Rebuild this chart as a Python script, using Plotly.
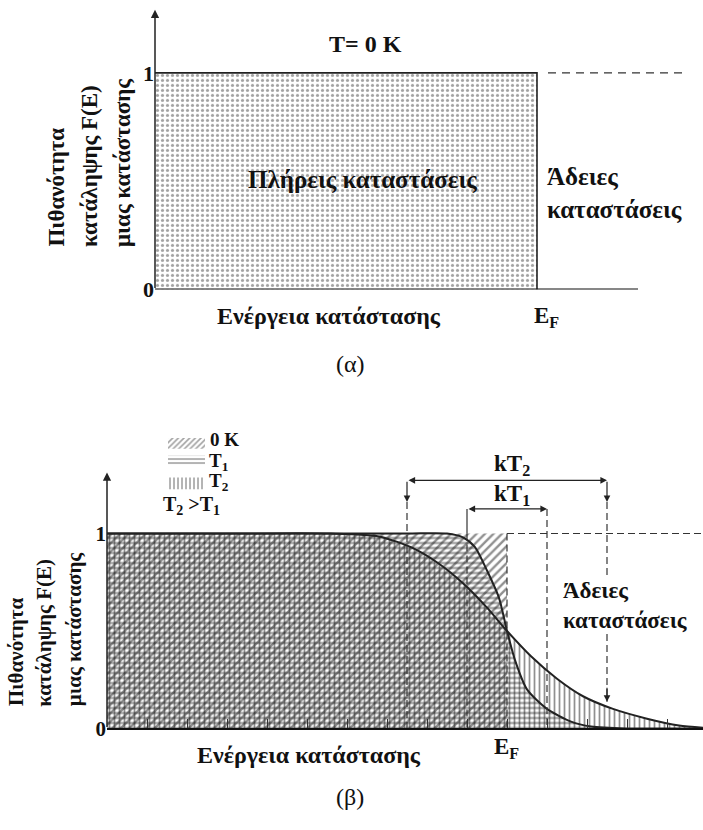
import plotly.graph_objects as go

W, H = 703, 830
FONT = "Liberation Serif"

# ---------------- data ----------------
# Panel (a): occupation probability at T = 0 K (energy in units of E_F)
E_a = [0.0, 1.0, 1.0]
F_a = [1.0, 1.0, 0.0]

# Panel (b): occupation probability, energy in units of E_F
E_0K = [0.0, 1.0, 1.0]
F_0K = [1.0, 1.0, 0.0]
E_T1 = [0.0, 0.40, 0.75, 0.85, 0.89, 0.92, 0.95, 0.98, 1.00, 1.02, 1.05, 1.10, 1.16, 1.21, 1.30, 1.49]
F_T1 = [1.0, 1.00, 1.00, 1.0, 0.98, 0.93, 0.81, 0.67, 0.50, 0.35, 0.20, 0.10, 0.035, 0.01, 0.0, 0.0]
E_T2 = [0.0, 0.30, 0.56, 0.68, 0.765, 0.83, 0.89, 0.95, 1.00, 1.06, 1.125, 1.19, 1.265, 1.35, 1.43, 1.49]
F_T2 = [1.0, 1.00, 1.0, 0.985, 0.925, 0.845, 0.745, 0.62, 0.50, 0.37, 0.255, 0.165, 0.10, 0.05, 0.015, 0.004]
EF = 1.0
KT1 = 0.10
KT2 = 0.25
Y_TICKS = [0, 1]
Y_TICK_TEXT = ["<b>0</b>", "<b>1</b>"]

# ---------------- geometry (pixels) ----------------
A_X0, A_XEF, A_Y0, A_Y1, A_TOP = 155, 537, 294, 74, 8
B_X0, B_XEF, B_Y0, B_Y1, B_TOP = 107, 507, 740, 542, 478
a_sx = A_XEF - A_X0
a_sy = A_Y0 - A_Y1
b_sx = B_XEF - B_X0
b_sy = B_Y0 - B_Y1


def bF(ypx):
    return (B_Y0 - ypx) / b_sy


def px(x):
    return x / W


def py(y):
    return 1 - y / H


fig = go.Figure()

# ----- panel (a) -----
fig.add_trace(go.Scatter(
    x=E_a, y=F_a, xaxis="x", yaxis="y", mode="lines", fill="tozeroy",
    line=dict(color="#222", width=1.6), fillcolor="rgba(0,0,0,0)",
    fillpattern=dict(shape=".", size=5, solidity=0.33, fgcolor="#444", bgcolor="rgba(0,0,0,0)"),
    showlegend=False, hoverinfo="skip"))
fig.add_trace(go.Scatter(
    x=[0, (638 - A_X0) / a_sx], y=[0, 0], xaxis="x", yaxis="y", mode="lines",
    line=dict(color="#111", width=2), showlegend=False, hoverinfo="skip"))
fig.add_trace(go.Scatter(
    x=[(548 - A_X0) / a_sx, (682 - A_X0) / a_sx], y=[F_a[0], F_a[0]], xaxis="x", yaxis="y",
    mode="lines", line=dict(color="#333", width=1.3, dash="8px,6px"),
    showlegend=False, hoverinfo="skip"))

# ----- panel (b) fills -----
pat_bg = "rgba(0,0,0,0)"
fig.add_trace(go.Scatter(
    x=E_0K, y=F_0K, xaxis="x2", yaxis="y2", mode="lines", fill="tozeroy",
    line=dict(width=0), fillcolor="rgba(0,0,0,0)",
    fillpattern=dict(shape="/", size=6, solidity=0.4, fgcolor="#222", bgcolor=pat_bg),
    showlegend=False, hoverinfo="skip"))
fig.add_trace(go.Scatter(
    x=E_T1, y=F_T1, xaxis="x2", yaxis="y2", mode="lines", fill="tozeroy",
    line=dict(width=0, shape="spline", smoothing=0.7), fillcolor="rgba(0,0,0,0)",
    fillpattern=dict(shape="-", size=5, solidity=0.38, fgcolor="#222", bgcolor=pat_bg),
    showlegend=False, hoverinfo="skip"))
fig.add_trace(go.Scatter(
    x=E_T2, y=F_T2, xaxis="x2", yaxis="y2", mode="lines", fill="tozeroy",
    line=dict(width=0, shape="spline", smoothing=0.7), fillcolor="rgba(0,0,0,0)",
    fillpattern=dict(shape="|", size=5, solidity=0.35, fgcolor="#222", bgcolor=pat_bg),
    showlegend=False, hoverinfo="skip"))
# curves
for E, F in ((E_T1, F_T1), (E_T2, F_T2)):
    fig.add_trace(go.Scatter(
        x=E, y=F, xaxis="x2", yaxis="y2", mode="lines",
        line=dict(color="#222", width=2, shape="spline", smoothing=0.7),
        showlegend=False, hoverinfo="skip"))

# dashed guides
dash_style = dict(color="#333", width=1.2, dash="7px,4px")
f_kt2 = bF(488)
f_kt2_tip = bF(510)
f_kt1 = bF(517)
f_right_tip = bF(713)
x_end = (W - B_X0) / b_sx
guides = [
    ([EF, x_end], [1, 1]),
    ([EF - KT2, EF - KT2], [f_kt2_tip, 0]),
    ([EF - KT1, EF - KT1], [1, 0]),
    ([EF, EF], [1, 0]),
    ([EF + KT1, EF + KT1], [f_kt1, 0]),
    ([EF + KT2, EF + KT2], [f_kt2_tip, f_right_tip]),
]
for gx, gy in guides:
    fig.add_trace(go.Scatter(x=gx, y=gy, xaxis="x2", yaxis="y2", mode="lines",
                             line=dash_style, showlegend=False, hoverinfo="skip"))
# solid short vertical at left end of kT1
fig.add_trace(go.Scatter(x=[EF - KT1, EF - KT1], y=[f_kt1, 1], xaxis="x2", yaxis="y2",
                         mode="lines", line=dict(color="#333", width=1.2),
                         showlegend=False, hoverinfo="skip"))

# ----- legend swatches (own small axes) -----
sw = [("/", 445, 456), ("-", 463, 473), ("|", 485, 497)]
for shape, y0, y1 in sw:
    fig.add_trace(go.Scatter(
        x=[0, 1, 1, 0, 0], y=[y0, y0, y1, y1, y0], xaxis="x3", yaxis="y3",
        mode="lines", fill="toself", line=dict(width=0), fillcolor="rgba(0,0,0,0)",
        fillpattern=dict(shape=shape, size=4, solidity=0.4, fgcolor="#444", bgcolor=pat_bg),
        showlegend=False, hoverinfo="skip"))

annotations = []


def text(t, x, y, size, xanchor="center", yanchor="middle", bold=True, **kw):
    annotations.append(dict(
        text=("<b>%s</b>" % t) if bold else t, x=px(x), y=py(y), xref="paper", yref="paper",
        xanchor=xanchor, yanchor=yanchor, showarrow=False, borderpad=0,
        font=dict(family=FONT, size=size, color="#111"), **kw))


def arrow(x, y, ax, ay, xr, yr, side="end", width=1.3):
    annotations.append(dict(
        x=x, y=y, ax=ax, ay=ay, xref=xr, yref=yr, axref=xr, ayref=yr, text="",
        showarrow=True, arrowhead=2, arrowsize=1.1, arrowwidth=width, arrowcolor="#222",
        arrowside=side))


# axis arrows
arrow(0, (A_Y0 - A_TOP - 2) / a_sy, 0, 0, "x", "y", width=1.5)
arrow(0, (B_Y0 - B_TOP - 2) / b_sy, 0, 0, "x2", "y2", width=1.5)
# kT arrows
arrow(EF + KT2, f_kt2, EF - KT2, f_kt2, "x2", "y2", side="end+start", width=1.2)
arrow(EF - KT2, f_kt2_tip, EF - KT2, f_kt2, "x2", "y2", width=1.2)
arrow(EF + KT2, f_kt2_tip, EF + KT2, f_kt2, "x2", "y2", width=1.2)
arrow(EF + KT1, f_kt1, EF - KT1, f_kt1, "x2", "y2", side="end+start", width=1.2)
arrow(EF + KT2, f_right_tip, EF + KT2, f_right_tip + 0.08, "x2", "y2", width=1.2)

# panel (a) texts
text("T= 0 K", 365, 45, 24)
text("Πλήρεις καταστάσεις", 362, 182, 25)
text("Άδειες<br>καταστάσεις", 546, 196, 25, xanchor="left", align="left")
text("Ενέργεια κατάστασης", 329, 321, 24)
text("E<sub>F</sub>", 546, 322, 23)
text("(α)", 350, 370, 24, bold=False)
for t, x in (("Πιθανότητα", 57), ("κατάληψης F(E)", 89), ("μιας κατάστασης", 122)):
    text(t, x, 252, 23, yanchor="bottom", textangle=-90)

# panel (b) texts (legend)
text("0 K", 209, 446, 19, xanchor="left")
text("T<sub>1</sub>", 208, 469, 19, xanchor="left")
text("T<sub>2</sub>", 208, 490, 19, xanchor="left")
text("T<sub>2</sub> >T<sub>1</sub>", 162, 514, 20, xanchor="left")
text("kT<sub>2</sub>", 512, 472, 23)
text("kT<sub>1</sub>", 512, 503, 23)
text("Άδειες<br>καταστάσεις", 562, 615, 23, xanchor="left", align="left",
     bgcolor="white")
text("Ενέργεια κατάστασης", 309, 767, 24)
text("E<sub>F</sub>", 506, 760, 23)
text("(β)", 350, 810, 24, bold=False)
for t, x in (("Πιθανότητα", 16), ("κατάληψης F(E)", 44), ("μιας κατάστασης", 74)):
    text(t, x, 719, 21, yanchor="bottom", textangle=-90)

tickfont = dict(family=FONT, size=22, color="#111")
fig.update_layout(
    width=W, height=H, margin=dict(l=0, r=0, t=0, b=0),
    paper_bgcolor="white", plot_bgcolor="rgba(0,0,0,0)",
    xaxis=dict(domain=[px(A_X0), 1], range=[0, (W - A_X0) / a_sx], visible=False, anchor="y"),
    yaxis=dict(domain=[py(A_Y0), py(A_TOP)], range=[0, (A_Y0 - A_TOP) / a_sy], anchor="x",
               tickvals=Y_TICKS, ticktext=Y_TICK_TEXT, ticks="", showgrid=False,
               zeroline=False, showline=False, tickfont=tickfont),
    xaxis2=dict(domain=[px(B_X0), 1], range=[0, x_end], anchor="y2",
                showline=True, linecolor="#111", linewidth=2, ticks="inside",
                tickmode="linear", tick0=0, dtick=0.1, ticklen=9, tickwidth=1,
                tickcolor="#333", showticklabels=False, showgrid=False, zeroline=False),
    yaxis2=dict(domain=[py(B_Y0), py(B_TOP)], range=[0, (B_Y0 - B_TOP) / b_sy], anchor="x2",
                tickvals=Y_TICKS, ticktext=Y_TICK_TEXT, ticks="", showgrid=False,
                zeroline=False, showline=False, tickfont=dict(family=FONT, size=21, color="#111")),
    xaxis3=dict(domain=[px(168), px(205)], range=[0, 1], visible=False, anchor="y3"),
    yaxis3=dict(domain=[py(498), py(444)], range=[498, 444], visible=False, anchor="x3"),
    annotations=annotations,
)

fig.write_html("out.html")
